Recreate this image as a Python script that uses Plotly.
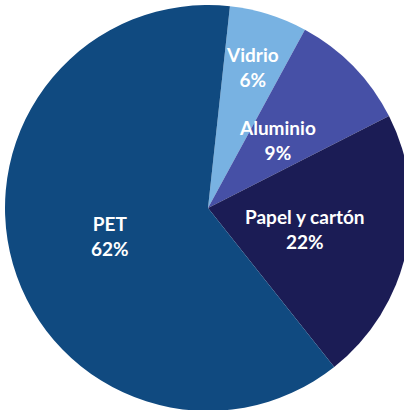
import math
import plotly.graph_objects as go

labels = ["Vidrio", "Aluminio", "Papel y cartón", "PET"]
values = [6.2, 9.6, 21.8, 62.4]
shown_pct = ["6%", "9%", "22%", "62%"]
colors = ["#78b2e2", "#4650a6", "#1b1c55", "#104a80"]

# layout / style settings
ROTATION = 6.2
SIZE = 416
PAD = 5
label_radius = [0.73, 0.48, 0.49, 0.50]  # fraction of pie radius for each label

fig = go.Figure(go.Pie(
    labels=labels,
    values=values,
    textinfo="none",
    marker=dict(colors=colors, line=dict(width=0)),
    sort=False,
    direction="clockwise",
    rotation=ROTATION,
    showlegend=False,
    hoverinfo="label+percent",
    domain=dict(x=[PAD / SIZE, 1 - PAD / SIZE], y=[PAD / SIZE, 1 - PAD / SIZE]),
))

# labels placed at slice mid-angles derived from the values
total = sum(values)
r_paper = 0.5 - PAD / SIZE
start = ROTATION
for lab, v, pct, rf in zip(labels, values, shown_pct, label_radius):
    span = 360.0 * v / total
    mid = math.radians(start + span / 2)
    start += span
    fig.add_annotation(
        x=0.5 + rf * r_paper * math.sin(mid),
        y=0.5 + rf * r_paper * math.cos(mid),
        xref="paper", yref="paper",
        text=f"<b>{lab}<br>{pct}</b>",
        showarrow=False,
        xanchor="center", yanchor="middle",
        align="center",
        font=dict(family="Lato", size=19, color="white"),
    )

fig.update_layout(
    width=SIZE,
    height=SIZE,
    autosize=False,
    margin=dict(l=0, r=0, t=0, b=0),
    paper_bgcolor="white",
    plot_bgcolor="white",
)
fig.write_html(
    "out.html",
    config={"displayModeBar": False},
    post_script="document.body.style.margin='0';document.body.style.overflow='hidden';",
)
